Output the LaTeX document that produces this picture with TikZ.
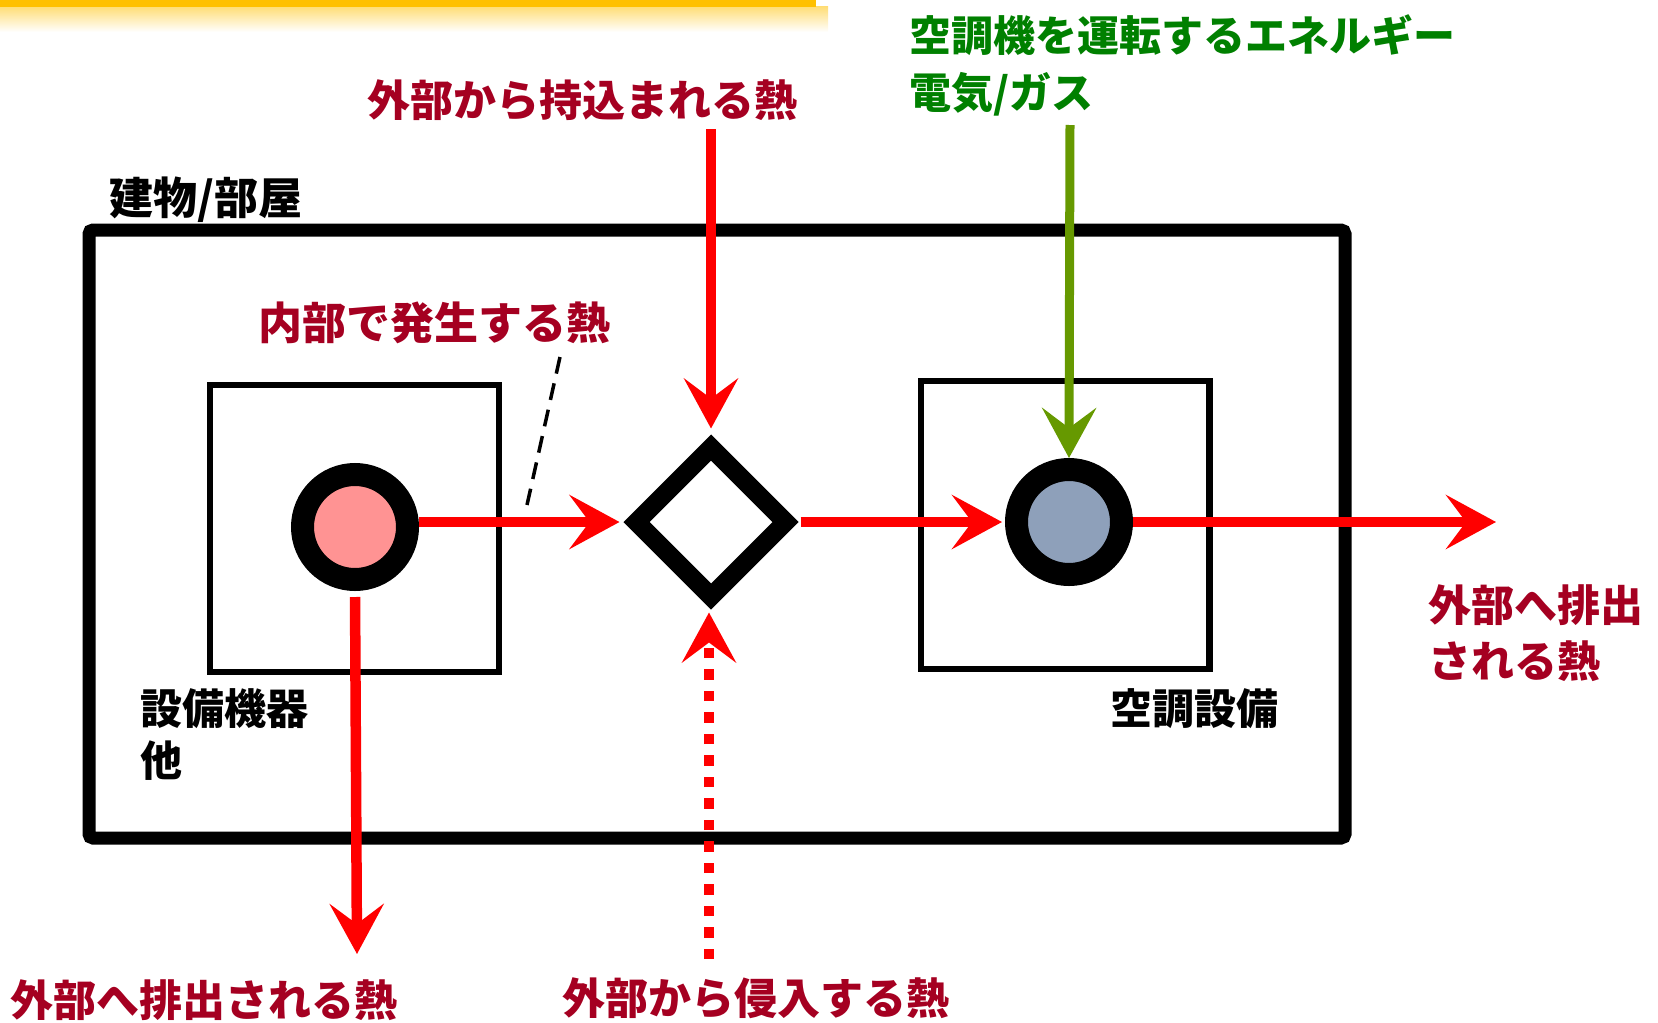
\documentclass[tikz,border=0pt]{standalone}
\usepackage{fontspec}
\newfontfamily\jp{Noto Sans CJK JP}
\usetikzlibrary{arrows.meta,shapes.geometric}
\definecolor{dred}{HTML}{A50021}
\definecolor{tgreen}{HTML}{008000}
\definecolor{agreen}{HTML}{669900}
\definecolor{pinkfill}{HTML}{FF9393}
\definecolor{grayfill}{HTML}{8EA0BA}
\definecolor{gold}{HTML}{FFC000}
\begin{document}
\begin{tikzpicture}[x=1pt,y=-1pt,
  lbl/.style={inner sep=0pt, anchor=base west, align=left},
  redlbl/.style={lbl, text=dred, font=\jp\bfseries\fontsize{43}{56}\selectfont},
  greenlbl/.style={lbl, text=tgreen, font=\jp\bfseries\fontsize{42}{57}\selectfont},
  blklbl/.style={lbl, text=black, font=\jp\bfseries\fontsize{42}{52}\selectfont},
  tip/.style={-{Stealth[length=50pt,width=54pt,inset=20pt]}},
  flow/.style={draw=red, line width=10.5pt, tip},
  ring/.style={circle, draw=black, line width=23pt, minimum size=105pt, inner sep=0pt, outer sep=11.5pt},
  boxthin/.style={draw=black, line width=6.5pt, inner sep=0pt},
]
\useasboundingbox (0,0) rectangle (1658,1023);
% top decorative bar
\shade[top color=gold!55, bottom color=white] (0,6) rectangle (828,32);
\fill[gold] (0,0) rectangle (816,7);

% boxes
\node[draw=black, line width=13pt, rounded corners=4pt, minimum width=1256pt, minimum height=608pt, inner sep=0pt] (room) at (717,534) {};
\node[boxthin, minimum width=289pt, minimum height=287pt] (eqbox) at (354.5,528.5) {};
\node[boxthin, minimum width=288.5pt, minimum height=288pt] (acbox) at (1065,525) {};

% nodes
\node[ring, fill=pinkfill] (c1) at (355,527) {};
\node[ring, fill=grayfill] (c2) at (1069,522) {};
\node[diamond, draw=black, fill=white, line width=18.4pt, minimum width=149pt, minimum height=149pt, inner sep=0pt, outer sep=0pt, line join=miter] (d) at (711,522) {};

% free ends
\coordinate (topin) at (711,129);
\coordinate (gin) at (1070,125);
\coordinate (rout) at (1496,522);
\coordinate (lout) at (357,954);
\coordinate (dotbot) at (709,959);
\coordinate (dashA) at (560,357);
\coordinate (dashB) at (527,505);

% connectors
\draw[flow, shorten >=17pt] (c1.east |- d.west) -- (d.west);
\draw[flow, shorten <=15pt, shorten >=3pt] (d.east) -- (c2.west);
\draw[flow] (c2.east) -- (rout);
\draw[flow, shorten >=19pt] (topin) -- (d.north);
\draw[flow, shorten <=6pt] (c1.south) -- (lout);
\draw[flow, dash pattern=on 10.5pt off 11pt] (dotbot) -- ([yshift=-16pt]dotbot |- d.south);
\draw[draw=agreen, line width=9pt, tip] (gin) -- (c2.north);
\draw[black, line width=3.5pt, dash pattern=on 17pt off 10pt] (dashA) -- (dashB);

% labels (multi-line nodes: base = last line)
\node[blklbl, font=\jp\bfseries\fontsize{44}{52}\selectfont] (lroom) at (109,214) {建物/部屋};
\node[redlbl, font=\jp\bfseries\fontsize{44}{56}\selectfont] (lint) at (258,339) {内部で発生する熱};
\node[redlbl] (ltop) at (367,116) {外部から持込まれる熱};
\node[greenlbl] (lgreen) at (909,108) {空調機を運転するエネルギー\\電気/ガス};
\node[blklbl] (leq) at (140,776) {設備機器\\他};
\node[blklbl] (lac) at (1110,724) {空調設備};
\node[redlbl] (lright) at (1428,677) {外部へ排出\\される熱};
\node[redlbl] (lbl1) at (10,1016) {外部へ排出される熱};
\node[redlbl] (lbl2) at (562,1014) {外部から侵入する熱};
\end{tikzpicture}
\end{document}
